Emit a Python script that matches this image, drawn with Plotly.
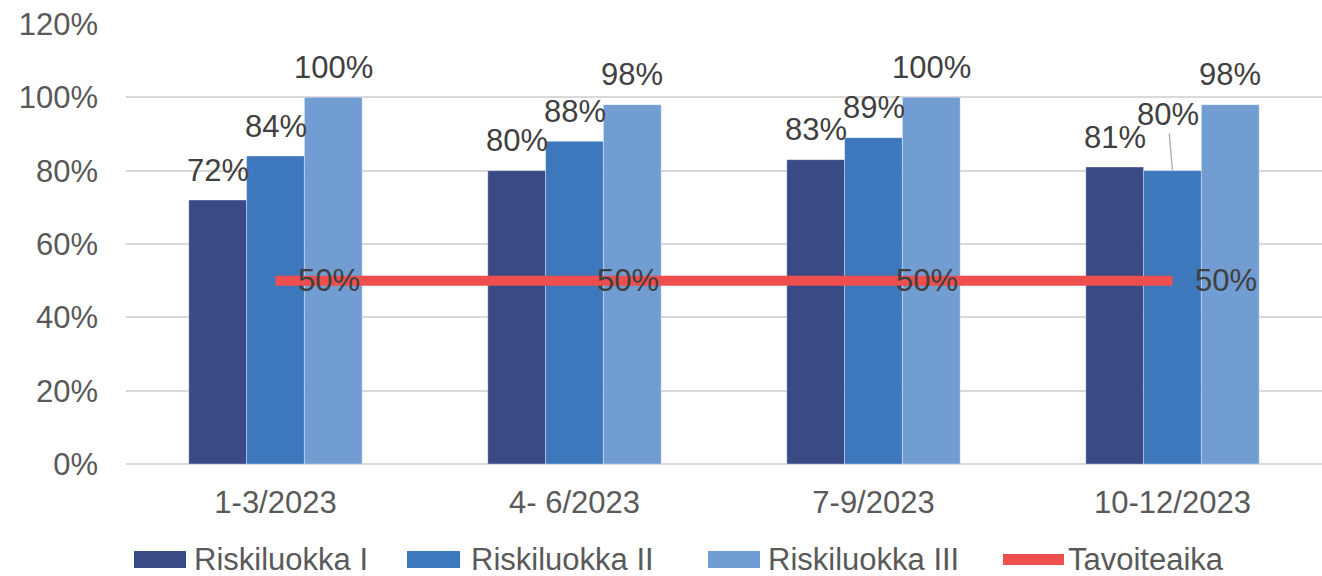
import plotly.graph_objects as go

# ---- data ----
categories = ["1-3/2023", "4- 6/2023", "7-9/2023", "10-12/2023"]
series_names = ["Riskiluokka I", "Riskiluokka II", "Riskiluokka III"]
riskiluokka_1 = [72, 80, 83, 81]
riskiluokka_2 = [84, 88, 89, 80]
riskiluokka_3 = [100, 98, 100, 98]
target_name = "Tavoiteaika"
target_values = [50, 50, 50, 50]
y_ticks = [0, 20, 40, 60, 80, 100, 120]
y_tick_labels = [f"{v}%" for v in y_ticks]

# ---- styling ----
W, H = 1322, 576
M_L, M_R, M_T, M_B = 126, 0, 24, 112
FONT = "Liberation Sans, Arial, sans-serif"
TICK_COLOR = "#595959"
LABEL_COLOR = "#404040"
GRID_COLOR = "#D9D9D9"
bar_colors = ["#3A4A85", "#3D77BC", "#729DD3"]
target_color = "#EF4E4E"
BARGAP = 0.42
FS = 31

series = [riskiluokka_1, riskiluokka_2, riskiluokka_3]

fig = go.Figure()
for name, vals, col in zip(series_names, series, bar_colors):
    fig.add_trace(go.Bar(
        x=categories, y=vals, name=name,
        marker=dict(color=col, line=dict(color="rgba(255,255,255,0.35)", width=1)),
        showlegend=False,
    ))

fig.add_trace(go.Scatter(
    x=categories, y=target_values, name=target_name, mode="lines",
    line=dict(color=target_color, width=10), showlegend=False,
))

annotations = []
bar_w = (1 - BARGAP) / len(series)

# value labels above each bar
for j, vals in enumerate(series):
    for i, v in enumerate(vals):
        ann = dict(
            x=i + (j - 1) * bar_w, y=v, xref="x", yref="y",
            text=f"{v}%", showarrow=False, yanchor="middle", yshift=30,
            font=dict(family=FONT, size=FS, color=LABEL_COLOR),
        )
        if j == 1 and i == 3:
            # label lifted clear of its neighbour, with a leader line
            ann.update(showarrow=True, arrowhead=0, arrowwidth=1.2,
                       arrowcolor="#A6A6A6", ax=-5, ay=-56, standoff=0, yshift=0)
        annotations.append(ann)

# target labels to the right of each point
for i, v in enumerate(target_values):
    annotations.append(dict(
        x=i, y=v, xref="x", yref="y", text=f"{v}%", showarrow=False,
        xanchor="left", yanchor="middle", xshift=20,
        font=dict(family=FONT, size=FS, color=LABEL_COLOR),
    ))

# ---- custom legend below the plot ----
plot_w = W - M_L - M_R
plot_h = H - M_T - M_B


def px_x(px):
    return (px - M_L) / plot_w


def px_y(py):
    return (H - M_B - py) / plot_h


shapes = []
legend_items = [
    (series_names[0], bar_colors[0], 134, 186, 551, 568, 192),
    (series_names[1], bar_colors[1], 407, 460, 551, 568, 469),
    (series_names[2], bar_colors[2], 708, 760, 551, 568, 766),
    (target_name, target_color, 1003, 1064, 554, 565, 1066),
]
for text, col, x0, x1, y0, y1, tx in legend_items:
    shapes.append(dict(type="rect", xref="paper", yref="paper",
                       x0=px_x(x0), x1=px_x(x1), y0=px_y(y1), y1=px_y(y0),
                       fillcolor=col, line=dict(width=0), layer="above"))
    annotations.append(dict(
        x=px_x(tx), y=px_y(559), xref="paper", yref="paper", text=text,
        showarrow=False, xanchor="left", yanchor="middle",
        font=dict(family=FONT, size=FS, color=TICK_COLOR),
    ))

fig.update_layout(
    width=W, height=H,
    margin=dict(l=M_L, r=M_R, t=M_T, b=M_B, autoexpand=False),
    barmode="group", bargap=BARGAP, bargroupgap=0,
    plot_bgcolor="white", paper_bgcolor="white",
    font=dict(family=FONT, size=FS, color=TICK_COLOR),
    annotations=annotations, shapes=shapes, showlegend=False,
)
fig.update_xaxes(
    showgrid=False, showline=False, ticks="", ticklabelstandoff=17,
    tickfont=dict(family=FONT, size=FS, color=TICK_COLOR),
)
fig.update_yaxes(
    range=[0, 120], tickvals=y_ticks, ticktext=y_tick_labels,
    showgrid=True, gridcolor=GRID_COLOR, gridwidth=1.5,
    zeroline=True, zerolinecolor=GRID_COLOR, zerolinewidth=2,
    showline=False, ticks="", ticklabelstandoff=27,
    tickfont=dict(family=FONT, size=FS, color=TICK_COLOR),
)

fig.write_html("out.html")
